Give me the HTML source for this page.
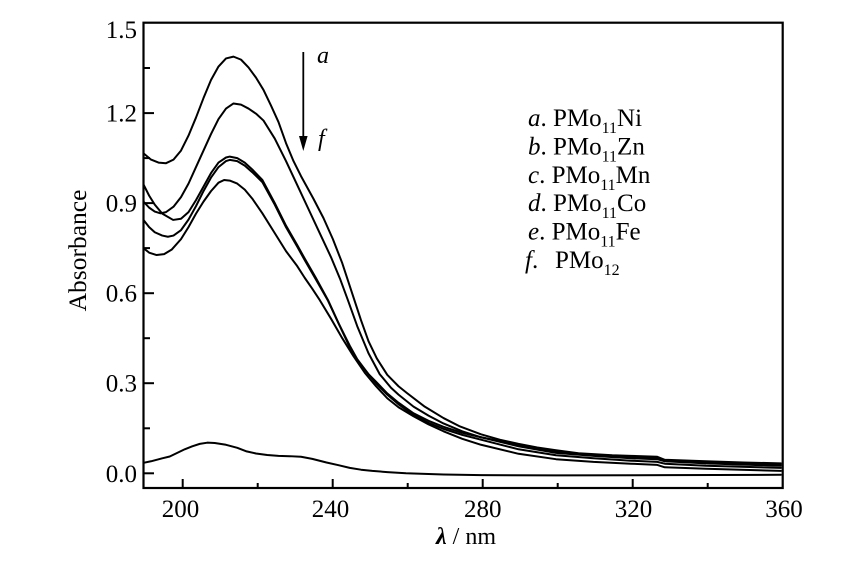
<!DOCTYPE html>
<html><head><meta charset="utf-8"><style>
html,body{margin:0;padding:0;background:#fff;}
svg{display:block;}
text{font-family:"Liberation Serif",serif;fill:#000;}
</style></head><body>
<svg width="850" height="585" viewBox="0 0 850 585" xmlns="http://www.w3.org/2000/svg">
<defs><clipPath id="pc"><rect x="144.5" y="23.7" width="637.2" height="463.3"/></clipPath></defs>
<rect x="0" y="0" width="850" height="585" fill="#fff"/>
<g clip-path="url(#pc)">
<g transform="matrix(3.75 0 0 -300.2 -569 473.3)" fill="none" stroke="#000" stroke-width="2" stroke-linejoin="round" stroke-linecap="round">
<polyline vector-effect="non-scaling-stroke" points="190,1.066 192,1.045 194,1.035 196,1.033 198,1.045 200,1.075 202,1.125 204,1.185 206,1.25 208,1.31 210,1.355 212,1.382 214,1.388 216,1.378 218,1.352 220,1.318 222,1.277 224,1.225 226,1.17 228,1.1 230,1.04 232,0.99 235.3,0.915 238,0.85 240.5,0.78 243,0.7 245.5,0.605 248,0.51 250,0.44 252.2,0.383 255,0.328 258,0.29 260.2,0.268 265,0.222 270,0.184 274.4,0.156 280,0.13 285,0.112 290,0.098 295,0.086 300,0.077 306,0.067 315,0.06 320,0.058 327,0.055 329,0.045 340,0.04 350,0.036 360,0.033"/>
<polyline vector-effect="non-scaling-stroke" points="190,0.905 191.5,0.885 193,0.872 194.5,0.866 196,0.87 198,0.888 200,0.92 202,0.965 204,1.02 206,1.075 208,1.13 210,1.18 212,1.215 214,1.232 216,1.228 218,1.215 220,1.198 222,1.175 225,1.115 228,1.04 231,0.96 234,0.88 237,0.8 240,0.72 242.5,0.645 244.5,0.577 247,0.49 250,0.4 253,0.33 256,0.285 258,0.262 262,0.222 266,0.192 270,0.166 275,0.14 280,0.12 290,0.095 300,0.072 310,0.062 320,0.055 327,0.05 329,0.042 340,0.036 360,0.03"/>
<polyline vector-effect="non-scaling-stroke" points="190,0.962 191.5,0.925 193,0.895 195,0.865 197.9,0.844 200,0.848 202,0.87 204,0.91 206,0.955 208,1.0 210,1.035 212,1.052 213,1.055 215,1.05 217,1.035 219,1.012 221.7,0.977 225,0.9 228,0.825 231,0.76 233,0.715 236,0.65 239.2,0.577 242,0.5 245,0.42 247,0.377 250,0.33 252,0.305 255,0.266 258,0.235 262,0.2 266,0.175 270,0.155 275,0.135 280,0.12 290,0.09 300,0.068 310,0.058 320,0.05 327,0.047 329,0.04 340,0.033 360,0.025"/>
<polyline vector-effect="non-scaling-stroke" points="190,0.844 191.5,0.82 193,0.803 195,0.792 196.5,0.788 198,0.792 200,0.81 202,0.845 204,0.89 206,0.94 208,0.985 210,1.02 212,1.04 213,1.044 215,1.04 217,1.025 219,1.003 221.7,0.97 225,0.895 228,0.82 231,0.755 233,0.71 236,0.645 239.2,0.575 242,0.5 245,0.425 247,0.38 250,0.33 252,0.3 255,0.262 258,0.23 262,0.195 266,0.168 270,0.148 275,0.128 280,0.112 290,0.08 300,0.06 310,0.05 320,0.042 327,0.038 329,0.032 340,0.025 360,0.018"/>
<polyline vector-effect="non-scaling-stroke" points="190,0.75 191.5,0.735 193.5,0.727 195.5,0.73 197.5,0.745 200,0.78 202,0.82 204,0.865 206,0.905 208,0.94 210,0.968 211.5,0.977 213,0.975 215,0.965 217,0.945 219,0.915 221.7,0.866 225,0.8 228,0.74 231,0.69 233,0.651 235,0.615 237,0.577 240,0.515 243,0.45 246,0.39 249,0.335 252,0.29 255,0.25 258,0.22 262,0.19 266,0.163 270,0.14 275,0.115 280,0.095 290,0.065 300,0.047 310,0.038 320,0.032 327,0.028 329,0.02 340,0.015 360,0.008"/>
<polyline vector-effect="non-scaling-stroke" points="190,0.035 192,0.04 195,0.05 197,0.056 199,0.068 201,0.08 203,0.09 205,0.098 207,0.102 209,0.101 212,0.095 215,0.085 217.5,0.073 220,0.066 223,0.061 226,0.058 229,0.057 232,0.055 235,0.048 238.8,0.036 242,0.027 245,0.018 248,0.012 251,0.008 255,0.004 260,0.0 270,-0.004 280,-0.006 300,-0.007 330,-0.006 360,-0.005"/>
</g>
</g>
<rect x="143.5" y="22.7" width="639.2" height="465.3" fill="none" stroke="#000" stroke-width="2.2"/>
<g stroke="#000" stroke-width="2">
<line x1="143.5" y1="473.3" x2="154" y2="473.3"/>
<line x1="143.5" y1="383.2" x2="154" y2="383.2"/>
<line x1="143.5" y1="293.2" x2="154" y2="293.2"/>
<line x1="143.5" y1="203.1" x2="154" y2="203.1"/>
<line x1="143.5" y1="113.1" x2="154" y2="113.1"/>
<line x1="143.5" y1="428.3" x2="150" y2="428.3"/>
<line x1="143.5" y1="338.2" x2="150" y2="338.2"/>
<line x1="143.5" y1="248.1" x2="150" y2="248.1"/>
<line x1="143.5" y1="158.1" x2="150" y2="158.1"/>
<line x1="143.5" y1="68.0" x2="150" y2="68.0"/>
<line x1="182.7" y1="488" x2="182.7" y2="479"/>
<line x1="332.7" y1="488" x2="332.7" y2="479"/>
<line x1="482.7" y1="488" x2="482.7" y2="479"/>
<line x1="632.7" y1="488" x2="632.7" y2="479"/>
<line x1="257.7" y1="488" x2="257.7" y2="483"/>
<line x1="407.7" y1="488" x2="407.7" y2="483"/>
<line x1="557.7" y1="488" x2="557.7" y2="483"/>
<line x1="707.7" y1="488" x2="707.7" y2="483"/>
</g>
<g font-size="25" text-anchor="end">
<text x="137" y="38">1.5</text>
<text x="137" y="121.6">1.2</text>
<text x="137" y="211.6">0.9</text>
<text x="137" y="301.7">0.6</text>
<text x="137" y="391.7">0.3</text>
<text x="137" y="481.8">0.0</text>
</g>
<g font-size="25" text-anchor="middle">
<text x="180.5" y="517">200</text>
<text x="330.5" y="517">240</text>
<text x="482.7" y="517">280</text>
<text x="633.5" y="517">320</text>
<text x="784" y="517">360</text>
</g>
<text x="466" y="544" font-size="24" text-anchor="middle"><tspan font-style="italic" font-weight="bold">λ</tspan> / nm</text>
<text transform="translate(86,250.5) rotate(-90)" font-size="25.5" text-anchor="middle">Absorbance</text>
<line x1="303.3" y1="52" x2="303.3" y2="140" stroke="#000" stroke-width="1.8"/>
<polygon points="299,136 307.6,136 303.3,151" fill="#000"/>
<text x="317" y="63" font-size="24" font-style="italic">a</text>
<text x="318" y="146" font-size="24" font-style="italic">f</text>
<g font-size="25">
<text x="528" y="126"><tspan font-style="italic">a</tspan>. PMo<tspan font-size="16" dy="7">11</tspan><tspan dy="-7">Ni</tspan></text>
<text x="528" y="154.4"><tspan font-style="italic">b</tspan>. PMo<tspan font-size="16" dy="7">11</tspan><tspan dy="-7">Zn</tspan></text>
<text x="528" y="182.8"><tspan font-style="italic">c</tspan>. PMo<tspan font-size="16" dy="7">11</tspan><tspan dy="-7">Mn</tspan></text>
<text x="528" y="211.2"><tspan font-style="italic">d</tspan>. PMo<tspan font-size="16" dy="7">11</tspan><tspan dy="-7">Co</tspan></text>
<text x="528" y="239.6"><tspan font-style="italic">e</tspan>. PMo<tspan font-size="16" dy="7">11</tspan><tspan dy="-7">Fe</tspan></text>
<text x="525" y="268"><tspan font-style="italic">f</tspan>.<tspan x="555">PMo</tspan><tspan font-size="16" dy="7">12</tspan></text>
</g>
</svg>
</body></html>
